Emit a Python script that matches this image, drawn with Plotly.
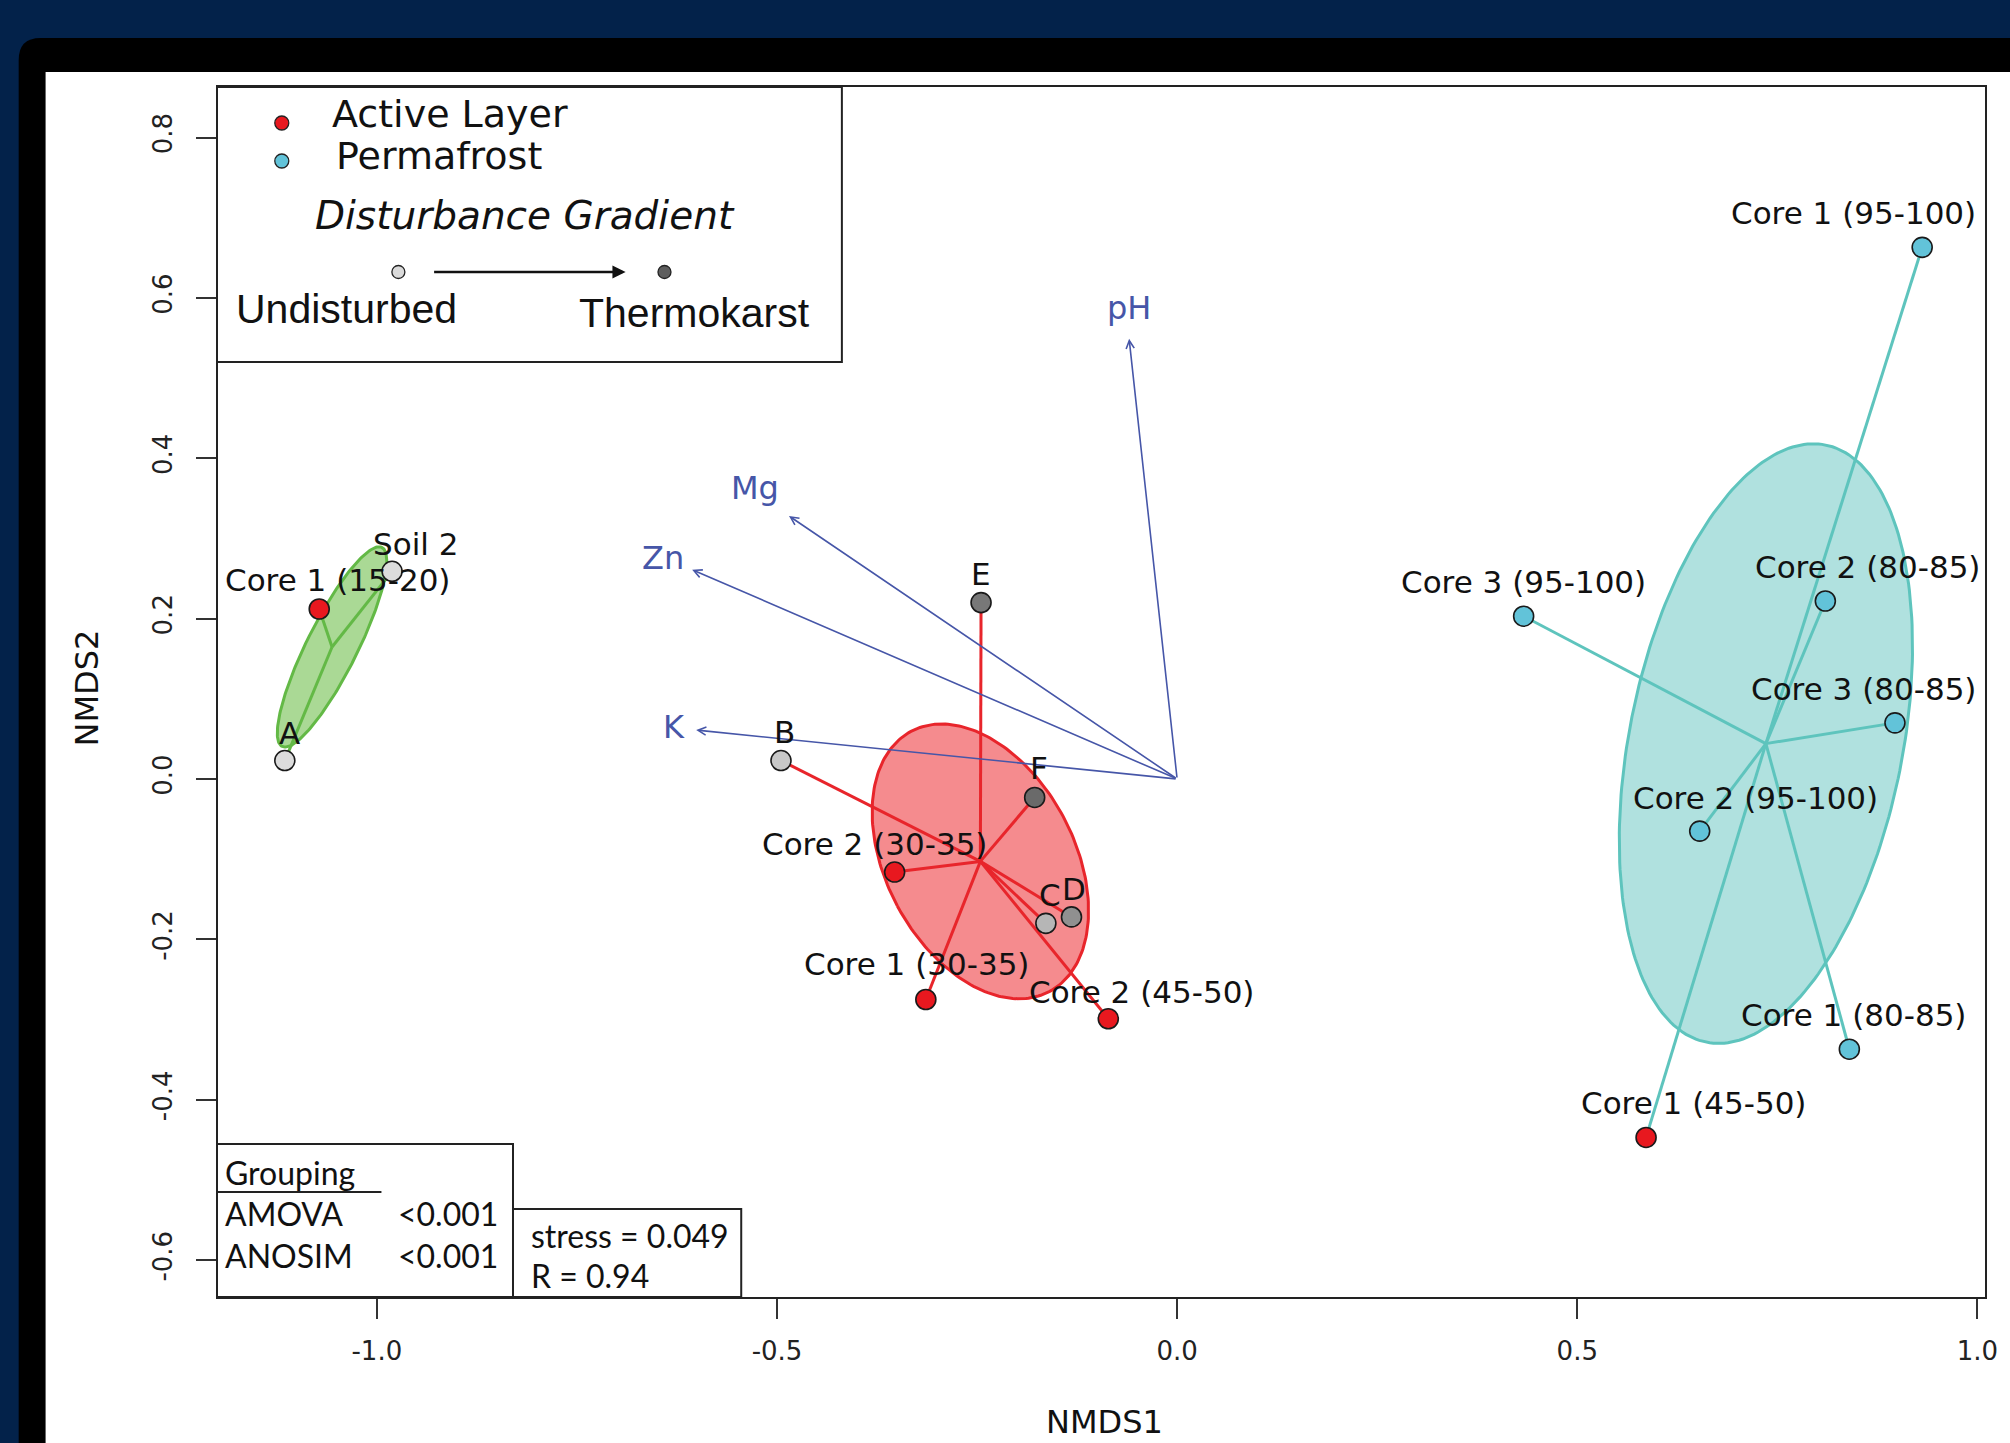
import numpy as np
import plotly.graph_objects as go

# ---------------- data ----------------
sample_names = ["A", "Soil 2", "Core 1 (15-20)",
                "B", "C", "D", "E", "F",
                "Core 2 (30-35)", "Core 1 (30-35)", "Core 2 (45-50)",
                "Core 1 (95-100)", "Core 2 (80-85)", "Core 3 (95-100)",
                "Core 3 (80-85)", "Core 2 (95-100)", "Core 1 (80-85)",
                "Core 1 (45-50)"]
nmds1 = [-1.115, -0.981, -1.072,
         -0.495, -0.164, -0.132, -0.245, -0.178,
         -0.353, -0.314, -0.086,
         0.931, 0.810, 0.433, 0.897, 0.653, 0.840, 0.586]
nmds2 = [0.023, 0.259, 0.212,
         0.023, -0.180, -0.172, 0.220, -0.023,
         -0.116, -0.275, -0.299,
         0.663, 0.222, 0.203, 0.070, -0.065, -0.337, -0.447]
cluster = ["G1", "G1", "G1",
           "G2", "G2", "G2", "G2", "G2", "G2", "G2", "G2",
           "G3", "G3", "G3", "G3", "G3", "G3", "G3"]
sample_type = ["grad1", "grad1", "active",
               "grad2", "grad3", "grad4", "grad5", "grad6",
               "active", "active", "active",
               "perma", "perma", "perma", "perma", "perma", "perma",
               "active"]

env_names = ["pH", "Mg", "Zn", "K"]
env_x = [-0.060, -0.485, -0.606, -0.601]
env_y = [0.549, 0.328, 0.261, 0.061]

x_ticks = [-1.0, -0.5, 0.0, 0.5, 1.0]
y_ticks = [-0.6, -0.4, -0.2, 0.0, 0.2, 0.4, 0.6, 0.8]

legend_groups = ["Active Layer", "Permafrost"]
stats_rows = [("AMOVA", "<0.001"), ("ANOSIM", "<0.001")]
stress_text = ["stress = 0.049", "R = 0.94"]

# ---------------- styles ----------------
W, H = 2010, 1443
ML, MR, MT, MB = 218, 19, 87, 146
PW, PH = W - ML - MR, H - MT - MB


def px(v):
    return (v - ML) / PW


def py(v):
    return 1 - (v - MT) / PH


NAVY = "#03224A"
BLUE = "#4656A8"
FONT = "DejaVu Sans, sans-serif"
FONT_N = "Liberation Sans, Arial, sans-serif"
FONT2 = "Lato, sans-serif"

type_fill = {"active": "#E8181F", "perma": "#62C3D9",
             "grad1": "#DCDCDC", "grad2": "#C8C8C8", "grad3": "#B6B6B6",
             "grad4": "#909090", "grad5": "#787878", "grad6": "#6A6A6A"}
cluster_style = {"G1": ("#63B946", "#AAD995"),
                 "G2": ("#E8252B", "#F58B8E"),
                 "G3": ("#5EC4BD", "#B0E1DF")}
# label offsets in pixels (xshift, yshift)
label_shift = {"A": (5, 28), "Soil 2": (23, 27), "Core 1 (15-20)": (18, 29),
               "B": (4, 29), "C": (4, 28), "D": (3, 28), "E": (0, 29),
               "F": (4, 29), "Core 2 (30-35)": (-20, 28),
               "Core 1 (30-35)": (-9, 36), "Core 2 (45-50)": (33, 27),
               "Core 1 (95-100)": (-69, 34), "Core 2 (80-85)": (42, 34),
               "Core 3 (95-100)": (0, 34), "Core 3 (80-85)": (-31, 34),
               "Core 2 (95-100)": (56, 33), "Core 1 (80-85)": (4, 34),
               "Core 1 (45-50)": (47, 34)}
env_label_shift = {"pH": (0, 31), "Mg": (-34, 28), "Zn": (-29, 12),
                   "K": (-22, 3)}

x_arr = np.array(nmds1)
y_arr = np.array(nmds2)
cl_arr = np.array(cluster)

fig = go.Figure()

# ellipses (1 sd covariance) and spiders
t = np.linspace(0, 2 * np.pi, 241)
for g in ["G1", "G2", "G3"]:
    m = cl_arr == g
    gx, gy = x_arr[m], y_arr[m]
    cx, cy = gx.mean(), gy.mean()
    cov = np.cov(np.vstack([gx, gy]))
    vals, vecs = np.linalg.eigh(cov)
    pts = (vecs @ np.diag(np.sqrt(vals)) @ np.vstack([np.cos(t), np.sin(t)]))
    lc, fc = cluster_style[g]
    fig.add_trace(go.Scatter(x=cx + pts[0], y=cy + pts[1], mode="lines",
                             fill="toself", fillcolor=fc,
                             line=dict(color=lc, width=3),
                             hoverinfo="skip", showlegend=False))
    sx, sy = [], []
    for a, b in zip(gx, gy):
        sx += [cx, a, None]
        sy += [cy, b, None]
    fig.add_trace(go.Scatter(x=sx, y=sy, mode="lines",
                             line=dict(color=lc, width=3),
                             hoverinfo="skip", showlegend=False))

# env vectors
for n, ex, ey in zip(env_names, env_x, env_y):
    fig.add_annotation(x=ex, y=ey, ax=0, ay=0, xref="x", yref="y",
                       axref="x", ayref="y", text="", showarrow=True,
                       arrowhead=5, arrowsize=1.0, arrowwidth=1.6,
                       arrowcolor=BLUE, standoff=0)
    dx, dy = env_label_shift[n]
    fig.add_annotation(x=ex, y=ey, xref="x", yref="y", xshift=dx, yshift=dy,
                       text=n, showarrow=False,
                       font=dict(family=FONT, size=32, color=BLUE))

# points
fig.add_trace(go.Scatter(x=nmds1, y=nmds2, mode="markers",
                         marker=dict(size=20,
                                     color=[type_fill[s] for s in sample_type],
                                     line=dict(color="#1A1A1A", width=1.6)),
                         text=sample_names, hoverinfo="text",
                         showlegend=False))

for n, a, b in zip(sample_names, nmds1, nmds2):
    dx, dy = label_shift[n]
    fig.add_annotation(x=a, y=b, xref="x", yref="y", text=n,
                       showarrow=False, xshift=dx, yshift=dy,
                       font=dict(family=FONT, size=31, color="#111111"))

shapes = []
# page background: black frame with rounded corner, white panel
r = 22
path = (f"M {px(18)},{py(H + 10)} L {px(18)},{py(38 + r)} "
        f"Q {px(18)},{py(38)} {px(18 + r)},{py(38)} "
        f"L {px(W + 10)},{py(38)} L {px(W + 10)},{py(H + 10)} Z")
shapes.append(dict(type="path", path=path, xref="paper", yref="paper",
                   fillcolor="#000000", line=dict(width=0), layer="below"))
shapes.append(dict(type="rect", xref="paper", yref="paper",
                   x0=px(45), x1=px(W + 10), y0=py(72), y1=py(H + 10),
                   fillcolor="#FFFFFF", line=dict(width=0), layer="below"))

# legend box
shapes.append(dict(type="rect", xref="paper", yref="paper",
                   x0=px(217), x1=px(844), y0=py(87), y1=py(362),
                   fillcolor="#FFFFFF", line=dict(color="#222222", width=2)))


def dot(xc, yc, color, d=14):
    return dict(type="circle", xref="paper", yref="paper",
                xsizemode="pixel", ysizemode="pixel",
                xanchor=px(xc), yanchor=py(yc),
                x0=-d / 2, x1=d / 2, y0=-d / 2, y1=d / 2,
                fillcolor=color, line=dict(color="#222222", width=1.3))


shapes.append(dot(282, 123, type_fill["active"]))
shapes.append(dot(282, 161, type_fill["perma"]))
shapes.append(dot(399, 272, "#DADADA", 13))
shapes.append(dot(666, 272, "#5E5E5E", 13))

# stats boxes
shapes.append(dict(type="rect", xref="paper", yref="paper",
                   x0=px(217), x1=px(514), y0=py(1144), y1=py(1297),
                   fillcolor="#FFFFFF", line=dict(color="#222222", width=2)))
shapes.append(dict(type="line", xref="paper", yref="paper",
                   x0=px(217), x1=px(382), y0=py(1192), y1=py(1192),
                   line=dict(color="#222222", width=2)))
shapes.append(dict(type="rect", xref="paper", yref="paper",
                   x0=px(514), x1=px(743), y0=py(1209), y1=py(1297),
                   fillcolor="#FFFFFF", line=dict(color="#222222", width=2)))

anns = []
anns.append(dict(x=px(330), y=py(114), text=legend_groups[0],
                 xanchor="left", yanchor="middle",
                 font=dict(family=FONT, size=38, color="#111111")))
anns.append(dict(x=px(334), y=py(156), text=legend_groups[1],
                 xanchor="left", yanchor="middle",
                 font=dict(family=FONT, size=38, color="#111111")))
anns.append(dict(x=px(526), y=py(215), text="<i>Disturbance Gradient</i>",
                 xanchor="center", yanchor="middle",
                 font=dict(family=FONT, size=39, color="#111111")))
anns.append(dict(x=px(347), y=py(309), text="Undisturbed",
                 xanchor="center", yanchor="middle",
                 font=dict(family=FONT_N, size=41, color="#111111")))
anns.append(dict(x=px(696), y=py(313), text="Thermokarst",
                 xanchor="center", yanchor="middle",
                 font=dict(family=FONT_N, size=41, color="#111111")))
anns.append(dict(x=px(627), y=py(272), ax=-193, ay=0, text="",
                 showarrow=True, arrowhead=2, arrowsize=1.1, arrowwidth=2.4,
                 arrowcolor="#111111", standoff=0))

anns.append(dict(x=px(223), y=py(1172), text="Grouping", xanchor="left",
                 yanchor="middle", font=dict(family=FONT2, size=32, color="#111111")))
for i, (k, v) in enumerate(stats_rows):
    yy = 1213 + i * 42
    anns.append(dict(x=px(223), y=py(yy), text=k, xanchor="left",
                     yanchor="middle", font=dict(family=FONT2, size=32, color="#111111")))
    anns.append(dict(x=px(501), y=py(yy), text=v, xanchor="right",
                     yanchor="middle", font=dict(family=FONT2, size=32, color="#111111")))
for i, s in enumerate(stress_text):
    anns.append(dict(x=px(530), y=py(1235 + i * 40), text=s, xanchor="left",
                     yanchor="middle", font=dict(family=FONT2, size=32, color="#111111")))

# axis titles
anns.append(dict(x=px(1108), y=py(1422), text="NMDS1", xanchor="center",
                 yanchor="middle", font=dict(family=FONT, size=32, color="#111111")))
anns.append(dict(x=px(87), y=py(688), text="NMDS2", xanchor="center",
                 yanchor="middle", textangle=-90,
                 font=dict(family=FONT, size=32, color="#111111")))

for a in anns:
    a.setdefault("xref", "paper")
    a.setdefault("yref", "paper")
    a.setdefault("showarrow", False)
    fig.add_annotation(**a)

fig.update_layout(
    width=W, height=H,
    margin=dict(l=ML, r=MR, t=MT, b=MB),
    paper_bgcolor=NAVY, plot_bgcolor="rgba(0,0,0,0)",
    shapes=shapes, showlegend=False,
    xaxis=dict(range=[-1.1985, 1.0095], tickvals=x_ticks,
               ticktext=[f"{v:.1f}" for v in x_ticks],
               ticks="outside", ticklen=20, tickwidth=1.5, tickcolor="#333333",
               showline=True, mirror=True, linecolor="#222222", linewidth=2,
               showgrid=False, zeroline=False, ticklabelstandoff=10,
               tickfont=dict(family=FONT, size=26, color="#222222")),
    yaxis=dict(range=[-0.646, 0.863], tickvals=y_ticks,
               ticktext=[f"{v:.1f}" for v in y_ticks],
               ticks="outside", ticklen=20, tickwidth=1.5, tickcolor="#333333",
               showline=True, mirror=True, linecolor="#222222", linewidth=2,
               showgrid=False, zeroline=False, tickangle=-90,
               ticklabelstandoff=14,
               tickfont=dict(family=FONT, size=26, color="#222222")),
)

fig.write_html(
    "out.html",
    config={"displayModeBar": False},
    post_script="document.body.style.margin='0';document.body.style.overflow='hidden';",
)
